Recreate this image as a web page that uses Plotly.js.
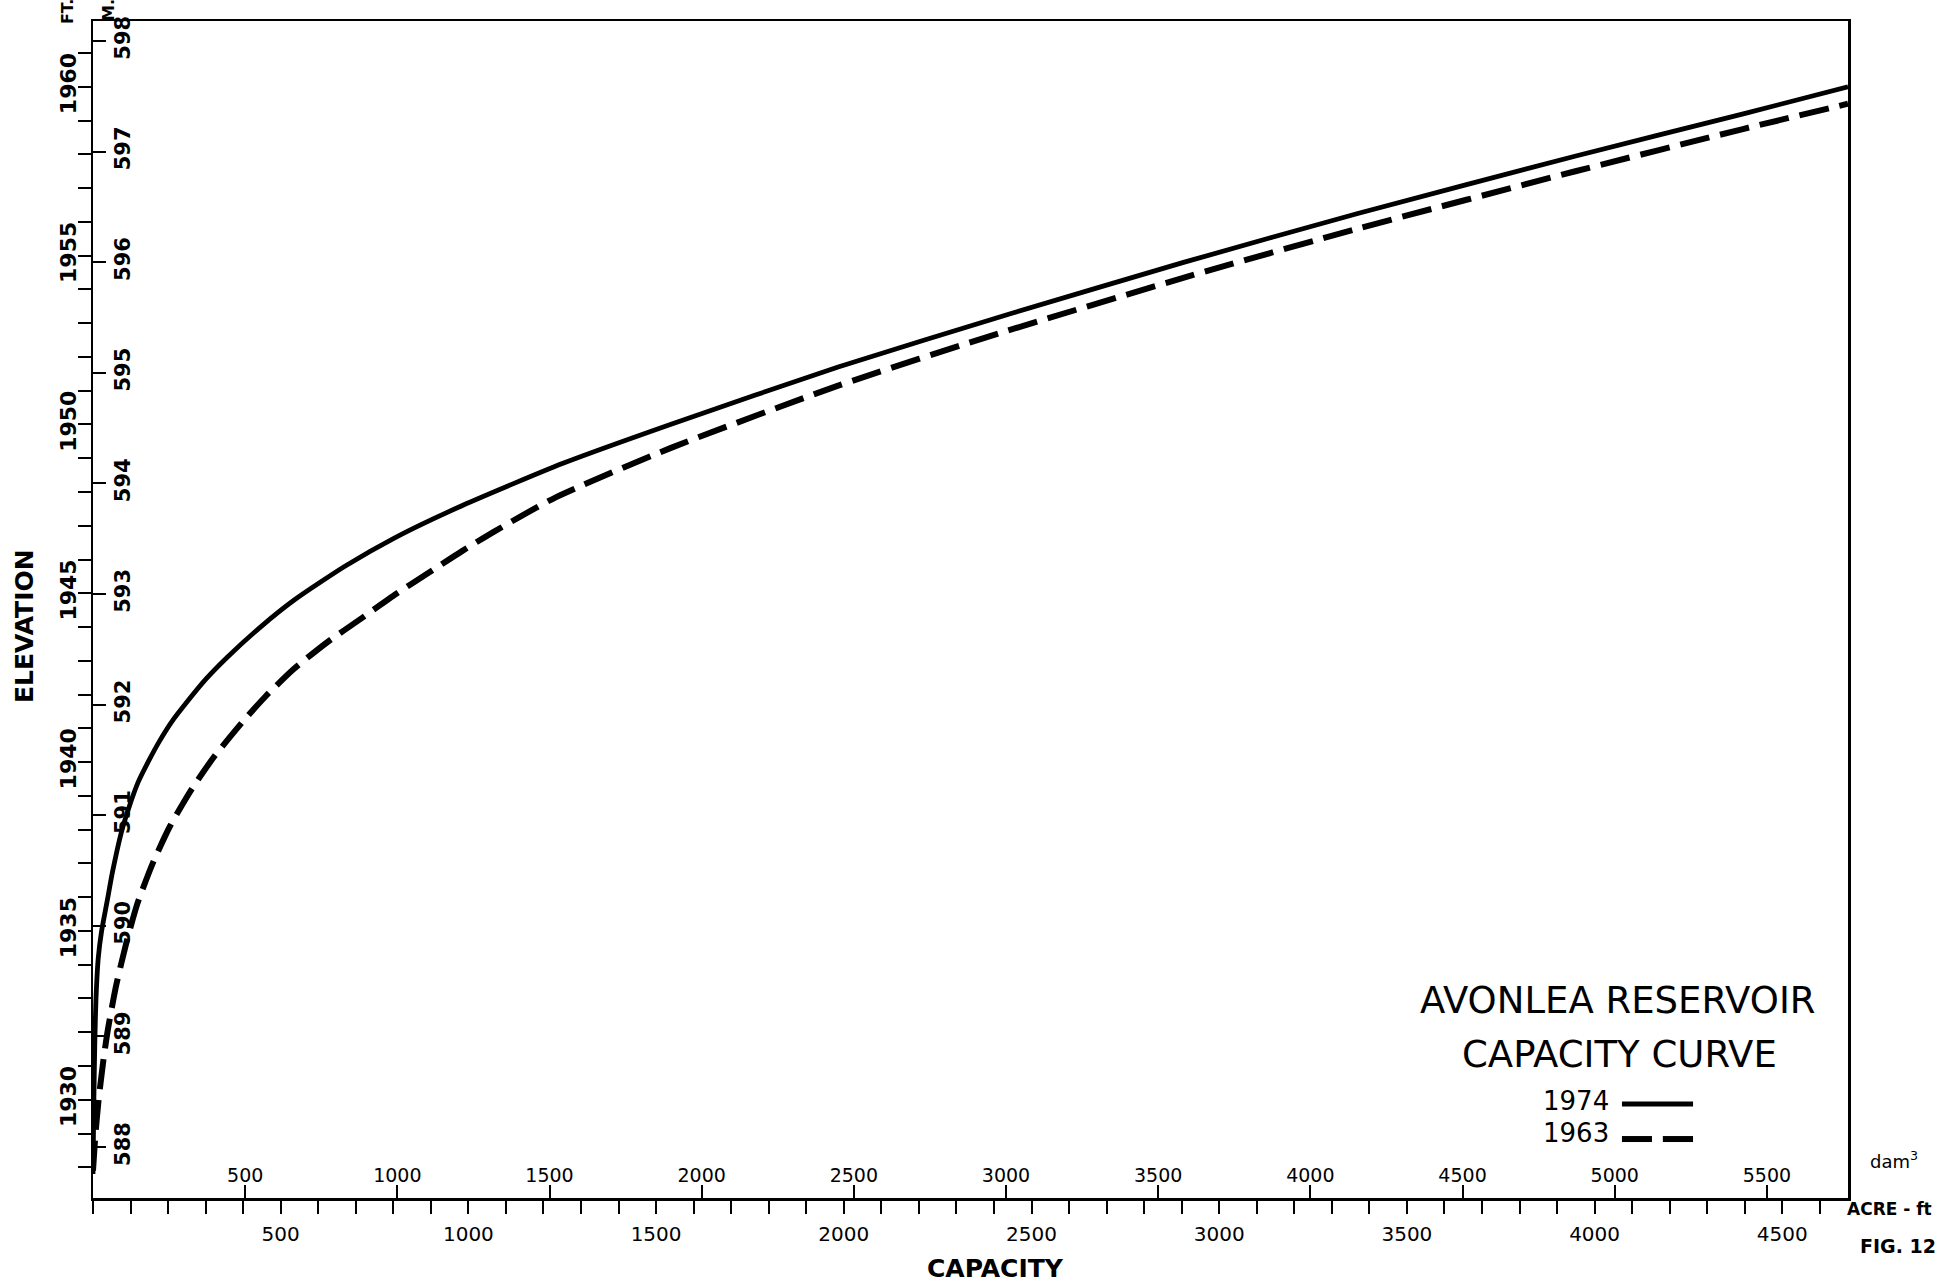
<!DOCTYPE html>
<html>
<head>
<meta charset="utf-8">
<script src="https://cdn.plot.ly/plotly-3.0.1.min.js"></script>
<style>
html,body{margin:0;padding:0;background:#fff;}
#chart{width:1954px;height:1285px;}
</style>
</head>
<body>
<div id="chart"></div>
<script>
// ---- Data (capacity in acre-ft, elevation in ft) ----
const capacity1974 = [0, 2, 5, 8, 14, 23, 38, 52, 75, 94, 120, 149, 176, 210, 248, 300, 357, 446, 536, 671, 805, 984, 1252, 1538, 1985, 2450, 2905, 3369, 3950, 4396, 4675];
const elevation1974 = [1927.8, 1929.8, 1931.8, 1933.0, 1934.2, 1935.0, 1935.9, 1936.75, 1937.9, 1938.6, 1939.4, 1940.05, 1940.6, 1941.2, 1941.75, 1942.45, 1943.1, 1944.0, 1944.8, 1945.8, 1946.65, 1947.6, 1948.85, 1950.0, 1951.7, 1953.3, 1954.8, 1956.25, 1957.95, 1959.2, 1960.0];

const capacity1963 = [0, 6, 14, 28, 40, 62, 90, 118, 159, 205, 263, 322, 399, 460, 534, 624, 714, 803, 893, 983, 1072, 1234, 1538, 1985, 2413, 2922, 3369, 3949, 4395, 4675];
const elevation1963 = [1927.9, 1928.9, 1929.9, 1931.2, 1932.1, 1933.4, 1934.7, 1935.8, 1937.0, 1938.1, 1939.2, 1940.15, 1941.2, 1941.95, 1942.75, 1943.55, 1944.25, 1944.95, 1945.6, 1946.25, 1946.85, 1947.85, 1949.3, 1951.15, 1952.7, 1954.4, 1955.8, 1957.5, 1958.75, 1959.5];

// ---- Tick labels ----
const acreTickVals = [500, 1000, 1500, 2000, 2500, 3000, 3500, 4000, 4500];
const acreTickText = ['500', '1000', '1500', '2000', '2500', '3000', '3500', '4000', '4500'];
const damTickVals = [500, 1000, 1500, 2000, 2500, 3000, 3500, 4000, 4500, 5000, 5500];
const damTickText = ['500', '1000', '1500', '2000', '2500', '3000', '3500', '4000', '4500', '5000', '5500'];
const ftTickVals = [1930, 1935, 1940, 1945, 1950, 1955, 1960];
const ftTickText = ['1930', '1935', '1940', '1945', '1950', '1955', '1960'];
const mTickVals = [588, 589, 590, 591, 592, 593, 594, 595, 596, 597, 598];
const mTickText = ['588', '589', '590', '591', '592', '593', '594', '595', '596', '597', '598'];

// ---- Axis ranges as drawn ----
const acreRange = [0, 4675];
const DAM3_PER_ACREFT = 1.233482;
const damRange = [0, acreRange[1] * DAM3_PER_ACREFT];
const ftRange = [1927.09, 1961.95];
const mRange = [587.54, 598.18];

const BLACK = '#000000';
const FONT = 'DejaVu Sans, Liberation Sans, sans-serif';

const traces = [
  {
    x: capacity1974, y: elevation1974, type: 'scatter', mode: 'lines', name: '1974',
    line: {color: BLACK, width: 4.8, shape: 'spline', smoothing: 0.6},
    xaxis: 'x', yaxis: 'y', hoverinfo: 'x+y'
  },
  {
    x: capacity1963, y: elevation1963, type: 'scatter', mode: 'lines', name: '1963',
    line: {color: BLACK, width: 6, dash: '30px,11px', shape: 'spline', smoothing: 0.6},
    xaxis: 'x', yaxis: 'y', hoverinfo: 'x+y'
  },
  {
    x: [], y: [], type: 'scatter', mode: 'lines', xaxis: 'x2', yaxis: 'y2',
    hoverinfo: 'skip', showlegend: false
  }
];

const layout = {
  width: 1954, height: 1285,
  margin: {l: 93, r: 106, t: 21, b: 87, pad: 0},
  paper_bgcolor: '#ffffff', plot_bgcolor: '#ffffff',
  showlegend: false,
  font: {family: FONT, color: BLACK},
  xaxis: {
    range: acreRange, tickvals: acreTickVals, ticktext: acreTickText,
    ticks: 'outside', ticklen: 13, tickwidth: 2, tickcolor: BLACK,
    minor: {dtick: 100, ticks: 'outside', ticklen: 13, tickwidth: 2, tickcolor: BLACK, showgrid: false},
    showline: true, linewidth: 2.5, linecolor: BLACK, mirror: true,
    showgrid: false, zeroline: false,
    tickfont: {size: 20, family: FONT, color: BLACK},
    ticklabelstandoff: 3
  },
  xaxis2: {
    overlaying: 'x', anchor: 'y', side: 'bottom', range: damRange,
    tickvals: damTickVals, ticktext: damTickText,
    ticks: 'inside', ticklen: 13, tickwidth: 2, tickcolor: BLACK,
    ticklabelposition: 'inside', ticklabeloverflow: 'allow',
    showline: false, showgrid: false, zeroline: false,
    tickfont: {size: 19, family: FONT, color: BLACK}
  },
  yaxis: {
    range: ftRange, tickvals: ftTickVals, ticktext: ftTickText,
    ticks: 'outside', ticklen: 13, tickwidth: 2, tickcolor: BLACK,
    minor: {dtick: 1, ticks: 'outside', ticklen: 13, tickwidth: 2, tickcolor: BLACK, showgrid: false},
    showline: true, linewidth: 2.5, linecolor: BLACK, mirror: true,
    showgrid: false, zeroline: false, tickangle: -90,
    ticklabelstandoff: -7,
    tickfont: {size: 22, family: FONT, weight: 'bold', color: BLACK}
  },
  yaxis2: {
    overlaying: 'y', anchor: 'x', side: 'left', range: mRange,
    tickvals: mTickVals, ticktext: mTickText,
    ticks: 'inside', ticklen: 13, tickwidth: 2, tickcolor: BLACK,
    ticklabelposition: 'inside', ticklabeloverflow: 'allow', tickangle: -90,
    showline: false, showgrid: false, zeroline: false,
    tickfont: {size: 21, family: FONT, weight: 'bold', color: BLACK}
  },
  shapes: [
    {type: 'line', xref: 'paper', yref: 'paper', x0: 0.8712, x1: 0.9117, y0: 0.0799, y1: 0.0799, line: {color: BLACK, width: 5}},
    {type: 'line', xref: 'paper', yref: 'paper', x0: 0.8712, x1: 0.8883, y0: 0.0501, y1: 0.0501, line: {color: BLACK, width: 6}},
    {type: 'line', xref: 'paper', yref: 'paper', x0: 0.8945, x1: 0.9117, y0: 0.0501, y1: 0.0501, line: {color: BLACK, width: 6}}
  ],
  annotations: [
    {text: 'ELEVATION', xref: 'paper', yref: 'paper', x: -0.0387, y: 0.486, showarrow: false, textangle: -90, xanchor: 'center', yanchor: 'middle', font: {size: 25, family: FONT, weight: 'bold', color: BLACK}},
    {text: 'CAPACITY', xref: 'paper', yref: 'paper', x: 0.5142, y: -0.0603, showarrow: false, xanchor: 'center', yanchor: 'middle', font: {size: 25, family: FONT, weight: 'bold', color: BLACK}},
    {text: 'AVONLEA RESERVOIR', xref: 'paper', yref: 'paper', x: 0.869, y: 0.1682, showarrow: false, xanchor: 'center', yanchor: 'middle', font: {size: 37, family: FONT, color: BLACK}},
    {text: 'CAPACITY CURVE', xref: 'paper', yref: 'paper', x: 0.870, y: 0.1223, showarrow: false, xanchor: 'center', yanchor: 'middle', font: {size: 37, family: FONT, color: BLACK}},
    {text: '1974', xref: 'paper', yref: 'paper', x: 0.865, y: 0.0824, showarrow: false, xanchor: 'right', yanchor: 'middle', font: {size: 26, family: FONT, color: BLACK}},
    {text: '1963', xref: 'paper', yref: 'paper', x: 0.865, y: 0.0552, showarrow: false, xanchor: 'right', yanchor: 'middle', font: {size: 26, family: FONT, color: BLACK}},
    {text: 'FT.', xref: 'paper', yref: 'paper', x: -0.0142, y: 1.0085, showarrow: false, textangle: -90, xanchor: 'center', yanchor: 'middle', font: {size: 16, family: FONT, weight: 'bold', color: BLACK}},
    {text: 'M.', xref: 'paper', yref: 'paper', x: 0.0085, y: 1.0093, showarrow: false, textangle: -90, xanchor: 'center', yanchor: 'middle', font: {size: 16, family: FONT, weight: 'bold', color: BLACK}},
    {text: 'dam<sup>3</sup>', xref: 'paper', yref: 'paper', x: 1.0114, y: 0.0323, showarrow: false, xanchor: 'left', yanchor: 'middle', font: {size: 18, family: FONT, color: BLACK}},
    {text: 'ACRE - ft', xref: 'paper', yref: 'paper', x: 1.0239, y: -0.0093, showarrow: false, xanchor: 'center', yanchor: 'middle', font: {size: 17, family: FONT, weight: 'bold', color: BLACK}},
    {text: 'FIG. 12', xref: 'paper', yref: 'paper', x: 1.0285, y: -0.0408, showarrow: false, xanchor: 'center', yanchor: 'middle', font: {size: 19, family: FONT, weight: 'bold', color: BLACK}}
  ]
};

Plotly.newPlot('chart', traces, layout, {displayModeBar: false, staticPlot: true});
</script>
</body>
</html>
